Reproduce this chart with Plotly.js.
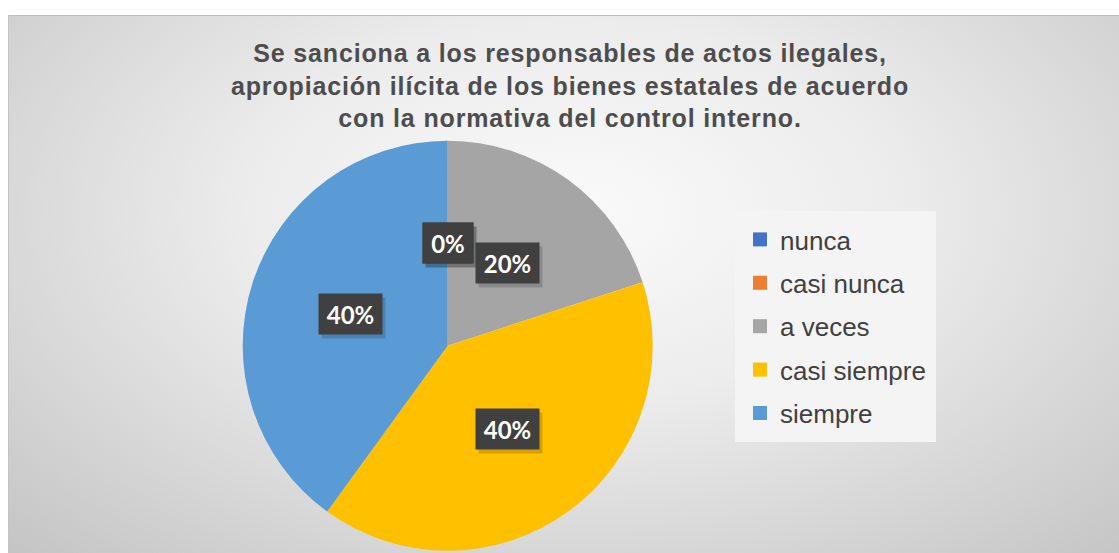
<!DOCTYPE html>
<html><head><meta charset="utf-8">
<script src="https://cdn.plot.ly/plotly-3.0.1.min.js"></script>
<style>
html,body{margin:0;padding:0;background:#fff;width:1119px;height:553px;overflow:hidden;}
#frame{position:absolute;left:8px;top:15px;width:1130px;height:560px;border-top:1px solid #bcbcbc;border-left:1px solid #c4c4c4;
background:radial-gradient(ellipse 72% 85% at 50% 35%, #fafafa 0%, #ececec 40%, #c4c4c4 100%);}
#chart{position:absolute;left:0;top:0;width:1119px;height:553px;}
.gtitle{letter-spacing:0.85px;}
</style></head><body>
<div id="frame"></div><div id="chart"></div>
<script>
// ---- data ----
const categories = ['nunca', 'casi nunca', 'a veces', 'casi siempre', 'siempre'];
const values = [0, 0, 20, 40, 40];
const colors = ['#4472C4', '#ED7D31', '#A5A5A5', '#FFC000', '#5B9BD5'];
const titleLines = [
  'Se sanciona a los responsables de actos ilegales,',
  'apropiación ilícita de los bienes estatales de acuerdo',
  'con la normativa del control interno.'
];

// ---- geometry ----
const W = 1119, H = 553;
const cx = 447.7, cy = 345.7, r = 205;
const total = values.reduce((a, b) => a + b, 0);

const pie = {
  type: 'pie',
  labels: categories,
  values: values,
  sort: false,
  direction: 'clockwise',
  rotation: 0,
  textinfo: 'none',
  hoverinfo: 'label+percent',
  showlegend: false,
  marker: {colors: colors, line: {width: 0}},
  domain: {x: [(cx - r) / W, (cx + r) / W], y: [(H - cy - r) / H, (H - cy + r) / H]}
};

// legend-only traces
const legendTraces = categories.map((c, i) => ({
  type: 'scatter', mode: 'markers', x: [null], y: [null], name: c,
  legendgroup: 'g' + i,
  marker: {symbol: 'square', size: 14, color: colors[i]},
  hoverinfo: 'skip'
}));

// data labels
const annotations = [];
let cum = 0;
values.forEach((v, i) => {
  const mid = (cum + v / 2) / total * 2 * Math.PI;
  cum += v;
  const px = cx + 0.5 * r * Math.sin(mid);
  const py = cy - 0.5 * r * Math.cos(mid);
  const txt = Math.round(v / total * 100) + '%';
  const w = txt.length * 13 + 14;
  const base = {xref: 'paper', yref: 'paper', x: px / W, y: 1 - py / H, showarrow: false,
    width: w, height: 30, borderpad: 5, xanchor: 'center', yanchor: 'middle'};
  annotations.push(Object.assign({}, base, {text: '', bgcolor: 'rgba(0,0,0,0.16)', xshift: 3, yshift: -4}));
  annotations.push(Object.assign({}, base, {text: txt, bgcolor: '#404040',
    font: {family: 'Lato, Open Sans, sans-serif', size: 24, weight: 'bold', color: '#ffffff'}}));
});

const layout = {
  width: W, height: H,
  margin: {l: 0, r: 0, t: 0, b: 0},
  paper_bgcolor: 'rgba(0,0,0,0)',
  plot_bgcolor: 'rgba(0,0,0,0)',
  title: {
    text: titleLines.join('<br>'),
    x: 570 / W, xanchor: 'center', xref: 'paper',
    y: 1 - 62 / H, yanchor: 'top', yref: 'paper',
    font: {family: 'Liberation Sans, Arial, sans-serif', size: 25, weight: 'bold', color: '#4d4d4d'}
  },
  xaxis: {visible: false},
  yaxis: {visible: false},
  showlegend: true,
  legend: {
    x: 735 / W, y: 1 - 211 / H, xanchor: 'left', yanchor: 'top',
    bgcolor: '#f4f4f4', bordercolor: '#f4f4f4', borderwidth: 5,
    font: {family: 'Liberation Sans, Arial, sans-serif', size: 26, color: '#404040'},
    tracegroupgap: 6.6, traceorder: 'grouped'
  },
  annotations: annotations
};

Plotly.newPlot('chart', [pie].concat(legendTraces), layout, {displayModeBar: false, staticPlot: true});
</script>
</body></html>
